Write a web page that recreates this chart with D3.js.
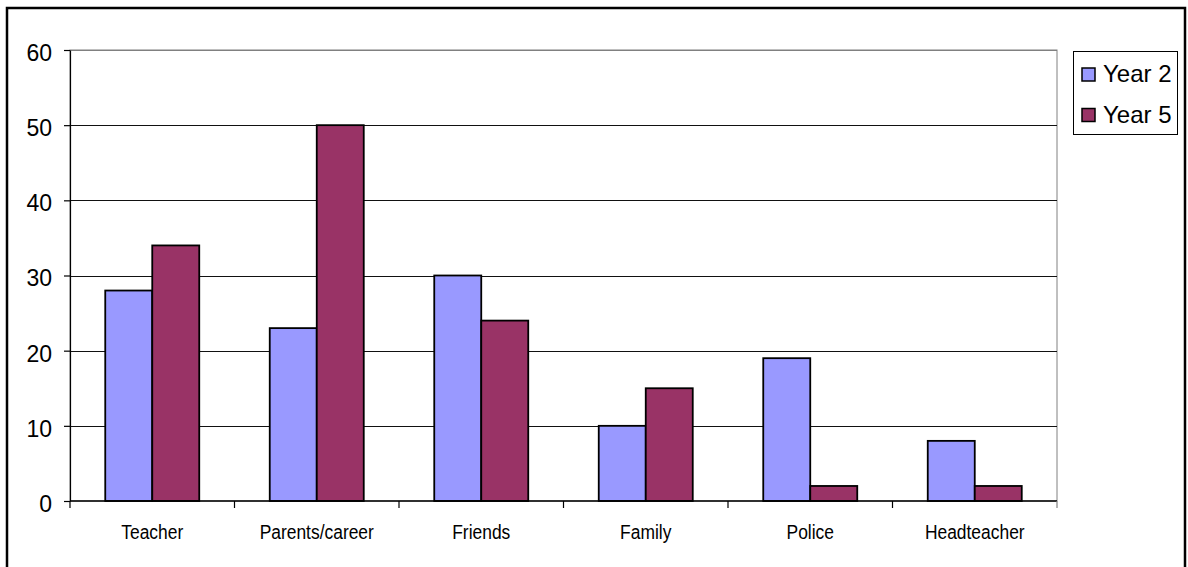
<!DOCTYPE html>
<html>
<head>
<meta charset="utf-8">
<script src="https://cdn.jsdelivr.net/npm/d3@7"></script>
<style>
  html, body { margin: 0; padding: 0; background: #fff; }
  svg { display: block; font-family: "Liberation Sans", Arial, sans-serif; }
</style>
</head>
<body>
<svg id="chart" width="1188" height="567"></svg>
<script>
// Who children would talk to, by year group
const categories = ["Teacher", "Parents/career", "Friends", "Family", "Police", "Headteacher"];
const seriesNames = ["Year 2", "Year 5"];
const year2 = [28, 23, 30, 10, 19, 8];
const year5 = [34, 50, 24, 15, 2, 2];
const yTicks = [0, 10, 20, 30, 40, 50, 60];
const colors = ["#9999FF", "#993366"];

const svg = d3.select("#chart");
const plot = { left: 70, right: 1057, top: 50, bottom: 501 };

// Outer chart frame
svg.append("rect")
  .attr("x", 7).attr("y", 8)
  .attr("width", 1178).attr("height", 566)
  .attr("fill", "#fff")
  .attr("stroke", "#000").attr("stroke-width", 2.5);

const x0 = d3.scaleBand().domain(categories).range([plot.left, plot.right]).padding(0);
const x1 = d3.scaleBand().domain(seriesNames).range([0, x0.bandwidth()])
  .paddingInner(0).paddingOuter(0.75);
const y = d3.scaleLinear().domain([0, 60]).range([plot.bottom, plot.top]);

// Plot-area border (top and right in grey)
svg.append("rect")
  .attr("x", plot.left).attr("y", plot.top)
  .attr("width", plot.right - plot.left).attr("height", plot.bottom - plot.top)
  .attr("fill", "none").attr("stroke", "#808080").attr("stroke-width", 1);

// Horizontal gridlines
svg.append("g")
  .selectAll("line")
  .data(yTicks.filter(d => d > 0))
  .join("line")
  .attr("x1", plot.left).attr("x2", plot.right)
  .attr("y1", d => Math.round(y(d)) + 0.5).attr("y2", d => Math.round(y(d)) + 0.5)
  .attr("stroke", d => d === 60 ? "#808080" : "#111").attr("stroke-width", 1);

// Bars
const rows = categories.map((c, i) => ({ cat: c, values: [year2[i], year5[i]] }));
const groups = svg.append("g")
  .selectAll("g")
  .data(rows)
  .join("g")
  .attr("transform", d => `translate(${x0(d.cat)},0)`);

groups.selectAll("rect")
  .data(d => d.values.map((v, j) => ({ name: seriesNames[j], value: v, j })))
  .join("rect")
  .attr("x", d => x1(d.name))
  .attr("y", d => y(d.value))
  .attr("width", x1.bandwidth())
  .attr("height", d => y(0) - y(d.value))
  .attr("fill", d => colors[d.j])
  .attr("stroke", "#000").attr("stroke-width", 1.8);

// Y axis
const yAxis = svg.append("g")
  .attr("transform", `translate(${plot.left},0)`)
  .call(d3.axisLeft(y).tickValues(yTicks).tickSize(6).tickPadding(12).tickSizeOuter(0));
yAxis.select(".domain").attr("stroke", "#000").attr("stroke-width", 1.2);
yAxis.selectAll(".tick line").attr("stroke", "#000").attr("stroke-width", 1.2);
yAxis.selectAll(".tick text")
  .attr("font-size", 23).attr("fill", "#000")
  .attr("font-family", "'Liberation Sans', Arial, sans-serif")
  .attr("dy", "0.45em");

// X axis line and category boundary ticks
const xAxis = svg.append("g").attr("transform", `translate(0,${plot.bottom})`);
xAxis.append("line")
  .attr("x1", plot.left).attr("x2", plot.right)
  .attr("y1", 0).attr("y2", 0)
  .attr("stroke", "#000").attr("stroke-width", 1.6);
const boundaries = categories.map(c => x0(c)).concat([plot.right]);
xAxis.selectAll("line.bt")
  .data(boundaries)
  .join("line")
  .attr("class", "bt")
  .attr("x1", d => d).attr("x2", d => d)
  .attr("y1", 0).attr("y2", 7)
  .attr("stroke", d => d === plot.right ? "#808080" : "#000").attr("stroke-width", 1.2);

// Category labels (narrow face)
xAxis.selectAll("text")
  .data(categories)
  .join("text")
  .attr("transform", d => `translate(${x0(d) + x0.bandwidth() / 2},37.5) scale(0.83,1)`)
  .attr("text-anchor", "middle")
  .attr("font-size", 21)
  .attr("fill", "#000")
  .text(d => d);

// Legend
const legend = svg.append("g");
legend.append("rect")
  .attr("x", 1073.5).attr("y", 51.5)
  .attr("width", 104).attr("height", 83)
  .attr("fill", "#fff").attr("stroke", "#000").attr("stroke-width", 1);
const items = legend.selectAll("g.item")
  .data(seriesNames)
  .join("g")
  .attr("class", "item")
  .attr("transform", (d, i) => `translate(1082,${68 + i * 40.5})`);
items.append("rect")
  .attr("width", 13).attr("height", 13)
  .attr("fill", (d, i) => colors[i])
  .attr("stroke", "#000").attr("stroke-width", 1.5);
items.append("text")
  .attr("x", 21).attr("y", 14)
  .attr("font-size", 24)
  .attr("fill", "#000")
  .text(d => d);
</script>
</body>
</html>
